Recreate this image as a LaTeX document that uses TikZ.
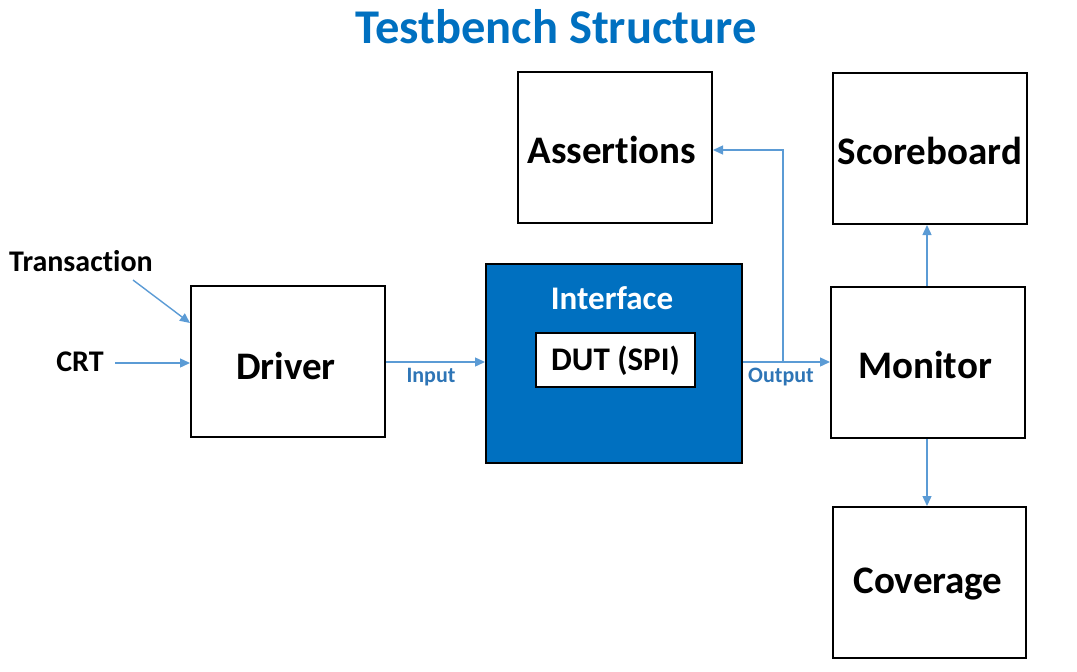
\documentclass[tikz,border=0pt]{standalone}
\usepackage{fontspec}
\setmainfont{Carlito}[Ligatures=NoCommon]
\usetikzlibrary{arrows.meta}
\definecolor{tbblue}{HTML}{0070C0}
\definecolor{lnblue}{HTML}{5B9BD5}
\definecolor{lblblue}{HTML}{2E75B6}
\begin{document}
\begin{tikzpicture}[x=1pt,y=-1pt,
  box/.style={draw=black,line width=2pt,fill=white,inner sep=0pt},
  boxtext/.style={font=\bfseries\fontsize{39}{46}\selectfont,inner sep=0pt},
  conn/.style={draw=lnblue,line width=1.4pt,-{Triangle[length=10pt,width=9pt]}},
  lbl/.style={font=\bfseries\fontsize{22}{26}\selectfont,text=lblblue,inner sep=0pt},
  side/.style={font=\bfseries\fontsize{30}{34}\selectfont,inner sep=0pt}]
\useasboundingbox (0,0) rectangle (1077,672);
\node[font=\bfseries\fontsize{48.5}{56}\selectfont,text=tbblue,inner sep=0pt] (title) at (556,27) {Testbench Structure};
\node[box,minimum width=194pt,minimum height=151pt] (assert) at (615,147.5) {};
\node[boxtext] (assertlbl) at (612,150) {Assertions};
\node[box,minimum width=194pt,minimum height=151pt] (score) at (930,148.5) {};
\node[boxtext] (scorelbl) at (930,151) {Scoreboard};
\node[box,minimum width=194pt,minimum height=151pt] (driver) at (288,361.5) {};
\node[boxtext] (driverlbl) at (286,366) {Driver};
\node[box,fill=tbblue,minimum width=256pt,minimum height=199pt] (iface) at (614,363.5) {};
\node[font=\bfseries\fontsize{33}{40}\selectfont,text=white,inner sep=0pt] (ifacelbl) at (612,298) {Interface};
\node[draw=black,line width=1.2pt,fill=white,minimum width=159pt,minimum height=54pt,inner sep=0pt] (dut) at (615.5,360) {};
\node[font=\bfseries\fontsize{33}{40}\selectfont,inner sep=0pt] (dutlbl) at (615.5,361) {DUT (SPI)};
\node[box,minimum width=194pt,minimum height=151pt] (monitor) at (928,362.5) {};
\node[boxtext] (monlbl) at (925,365) {Monitor};
\node[box,minimum width=193pt,minimum height=151pt] (cover) at (929.5,582.5) {};
\node[boxtext] (coverlbl) at (928,584) {Coverage};
\node[side] (trans) at (81,261) {Transaction};
\node[side] (crt) at (80,362) {CRT};
\coordinate (transend) at (133,280);
\coordinate (crtend) at (115,363);
\draw[conn] (transend) -- (driver.north west |- 0,323);
\draw[conn] (crtend) -- (crtend -| driver.west);
\draw[conn] (driver.east |- 0,362) -- (iface.west |- 0,362);
\draw[conn] (iface.east |- 0,362) -- (monitor.west |- 0,362);
\coordinate (branch) at (783,362);
\draw[conn] (branch) -- (783,150) -- (assert.east |- 0,150);
\draw[conn] (monitor.north -| 927,0) -- (score.south -| 927,0);
\draw[conn] (monitor.south -| 927,0) -- (cover.north -| 927,0);
\node[lbl] (input) at (431,377) {Input};
\node[lbl] (output) at (781,377) {Output};
\end{tikzpicture}
\end{document}
